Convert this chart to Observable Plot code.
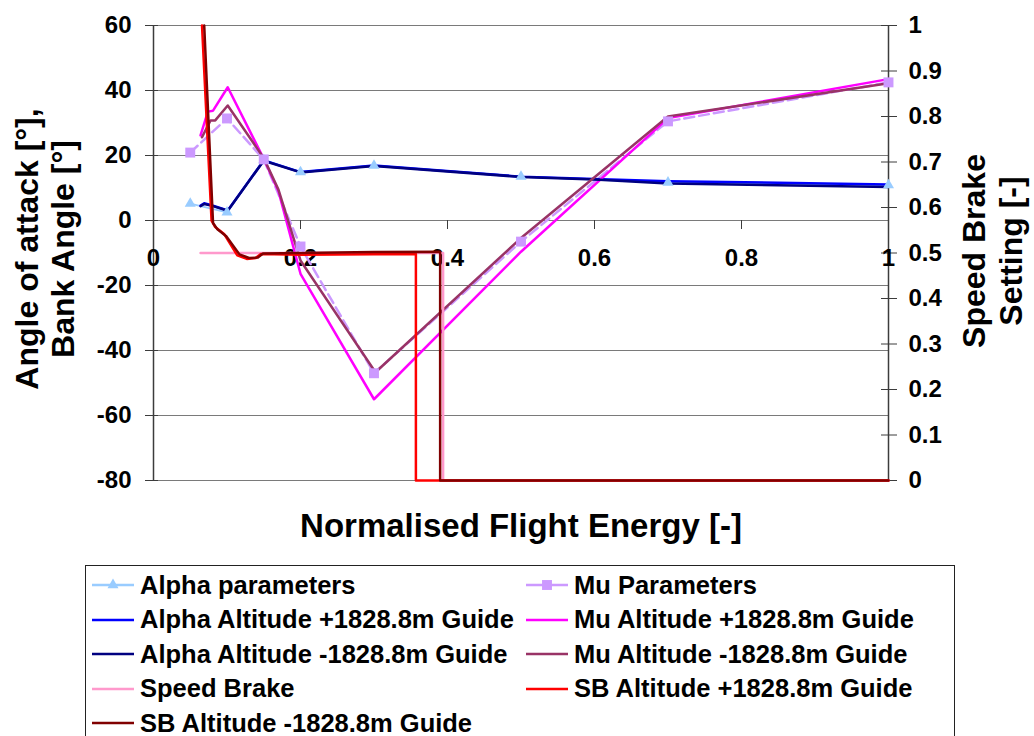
<!DOCTYPE html>
<html>
<head>
<meta charset="utf-8">
<script src="https://cdn.jsdelivr.net/npm/d3@7"></script>
<script src="https://cdn.jsdelivr.net/npm/@observablehq/plot@0.6"></script>
<style>
  html, body { margin: 0; padding: 0; background: #fff; overflow: hidden; }
  #wrap { position: relative; width: 1034px; height: 736px;
          font-family: "Liberation Sans", Arial, sans-serif; font-weight: bold; color: #000; }
  #chart svg { display: block; }
  #legend { position: absolute; left: 85px; top: 565px; width: 870px; height: 200px;
            border: 1px solid #222; box-sizing: border-box; background: #fff; }
  .item { position: absolute; display: flex; align-items: center; height: 34px;
          font-size: 25.5px; white-space: nowrap; }
  .item svg { margin-right: 6px; flex: none; }
</style>
</head>
<body>
<div id="wrap">
  <div id="chart"></div>
  <div id="legend"></div>
</div>
<script>
// ---- tick values ----
const xTicks = [0, 0.2, 0.4, 0.6, 0.8, 1];
const leftTicks = [-80, -60, -40, -20, 0, 20, 40, 60];
const sbTicks = [0, 0.1, 0.2, 0.3, 0.4, 0.5, 0.6, 0.7, 0.8, 0.9, 1];

// ---- reference parameters (markers) ----
const alphaParamX = [0.05, 0.1, 0.15, 0.2, 0.3, 0.5, 0.7, 1.0];
const alphaParamY = [5.2, 2.5, 18.6, 14.9, 16.9, 13.5, 11.7, 10.9];
const muParamX = [0.05, 0.1, 0.15, 0.2, 0.3, 0.5, 0.7, 1.0];
const muParamY = [20.9, 31.4, 18.8, -8.0, -47.0, -6.5, 30.5, 42.5];

// ---- angle of attack, guided runs ----
const alphaPlusX  = [0.064, 0.069, 0.08, 0.101, 0.15, 0.2, 0.3, 0.5, 0.6, 0.7, 1.0];
const alphaPlusY  = [4.6, 5.3, 4.6, 3.1, 18.5, 14.9, 16.9, 13.5, 12.8, 12.1, 11.1];
const alphaMinusX = [0.064, 0.069, 0.08, 0.101, 0.15, 0.2, 0.3, 0.5, 0.6, 0.7, 1.0];
const alphaMinusY = [4.4, 5.1, 4.5, 3.0, 18.4, 14.8, 16.8, 13.4, 12.6, 11.4, 10.3];

// ---- bank angle, guided runs ----
const muPlusX  = [0.064, 0.074, 0.081, 0.101, 0.15, 0.17, 0.2, 0.3, 0.5, 0.7, 1.0];
const muPlusY  = [26.2, 33.5, 33.8, 41.0, 19.0, 9.0, -16.4, -55.0, -9.6, 31.5, 43.5];
const muMinusX = [0.066, 0.0776, 0.084, 0.101, 0.15, 0.17, 0.2, 0.302, 0.5, 0.7, 1.0];
const muMinusY = [25.6, 30.8, 30.8, 35.4, 19.2, 9.5, -12.3, -46.7, -5.4, 32.0, 42.2];

// ---- speed brake setting (right axis, 0..1) ----
const sbRefX   = [0.064, 0.394, 0.394, 1.0];
const sbRefV   = [0.5, 0.5, 0, 0];
const sbPlusX  = [0.066, 0.079, 0.084, 0.096, 0.114, 0.127, 0.139, 0.146, 0.2, 0.3, 0.357, 0.357, 1.0];
const sbPlusV  = [1.0, 0.571, 0.557, 0.542, 0.495, 0.487, 0.489, 0.498, 0.496, 0.497, 0.498, 0, 0];
const sbMinusX = [0.069, 0.081, 0.087, 0.099, 0.117, 0.130, 0.142, 0.149, 0.2, 0.3, 0.39, 0.39, 1.0];
const sbMinusV = [1.0, 0.566, 0.552, 0.537, 0.497, 0.489, 0.490, 0.499, 0.500, 0.502, 0.503, 0, 0];

// ---- series names / colours ----
const seriesNames = [
  "Alpha parameters", "Mu Parameters",
  "Alpha Altitude +1828.8m Guide", "Mu Altitude +1828.8m Guide",
  "Alpha Altitude -1828.8m Guide", "Mu Altitude -1828.8m Guide",
  "Speed Brake", "SB Altitude +1828.8m Guide",
  "SB Altitude -1828.8m Guide"
];
const seriesColors = [
  "#99ccff", "#cc99ff",
  "#0000ff", "#ff00ff",
  "#000080", "#993366",
  "#ff99cc", "#ff0000",
  "#800000"
];
const seriesMarkers = ["triangle", "square", null, null, null, null, null, null, null];

// The speed brake axis (0..1) shares the frame with the angle axis (-80..60).
const yLo = -80, yHi = 60;
const toY = v => yLo + (yHi - yLo) * v;
const fromY = y => +((y - yLo) / (yHi - yLo)).toFixed(1);

const pts = (xs, ys) => xs.map((x, i) => ({x, y: ys[i]}));
const sbPts = (xs, vs) => xs.map((x, i) => ({x, y: toY(vs[i])}));

const W = 1034, H = 565;
const mL = 153, mR = 146, mT = 25, mB = 85;
const plotBottom = H - mB;           // pixel row of -80
const zeroRow = mT + (plotBottom - mT) * (yHi - 0) / (yHi - yLo); // pixel row of y = 0

const font = {fontSize: 24, fontWeight: "bold", fill: "black"};
const titleFont = {fontWeight: "bold", fill: "black", textAnchor: "middle", lineAnchor: "middle"};
const lw = 2.5;

const chart = Plot.plot({
  width: W, height: H,
  marginLeft: mL, marginRight: mR, marginTop: mT, marginBottom: mB,
  style: {fontFamily: "Liberation Sans, Arial, sans-serif", background: "white", color: "black"},
  x: {domain: [0, 1], axis: null},
  y: {domain: [yLo, yHi]},
  marks: [
    // horizontal gridlines
    Plot.ruleY(leftTicks, {stroke: "#7a7a7a", strokeWidth: 1}),
    // vertical axis lines
    Plot.ruleX([0, 1], {stroke: "#3c3c3c", strokeWidth: 1.5}),
    // left axis (angles)
    Plot.axisY(leftTicks, {anchor: "left", label: null, tickSize: 13, dx: 5, tickPadding: 14,
      tickFormat: d => String(d), stroke: "#3c3c3c", ...font}),
    // right axis (speed brake setting)
    Plot.axisY(sbTicks.map(toY), {anchor: "right", label: null, tickSize: 16, dx: -8, tickPadding: 12,
      tickFormat: y => String(fromY(y)), stroke: "#3c3c3c", ...font}),
    // x axis drawn across y = 0
    Plot.axisX(xTicks, {anchor: "bottom", label: null, dy: zeroRow - plotBottom, tickSize: 9, tickPadding: 19,
      tickFormat: d => String(d), stroke: "#3c3c3c", ...font}),

    // parameter polylines
    Plot.line(pts(alphaParamX, alphaParamY), {x: "x", y: "y", stroke: seriesColors[0], strokeWidth: 2}),
    Plot.line(pts(muParamX, muParamY), {x: "x", y: "y", stroke: seriesColors[1], strokeWidth: 2.5,
      strokeDasharray: "10,5"}),
    // guided runs
    Plot.line(pts(alphaPlusX, alphaPlusY), {x: "x", y: "y", stroke: seriesColors[2], strokeWidth: lw}),
    Plot.line(pts(muPlusX, muPlusY), {x: "x", y: "y", stroke: seriesColors[3], strokeWidth: lw}),
    Plot.line(pts(alphaMinusX, alphaMinusY), {x: "x", y: "y", stroke: seriesColors[4], strokeWidth: lw}),
    Plot.line(pts(muMinusX, muMinusY), {x: "x", y: "y", stroke: seriesColors[5], strokeWidth: lw}),
    // speed brake (secondary axis)
    Plot.line(sbPts(sbRefX, sbRefV), {x: "x", y: "y", stroke: seriesColors[6], strokeWidth: lw}),
    Plot.line(sbPts(sbPlusX, sbPlusV), {x: "x", y: "y", stroke: seriesColors[7], strokeWidth: lw}),
    Plot.line(sbPts(sbMinusX, sbMinusV), {x: "x", y: "y", stroke: seriesColors[8], strokeWidth: lw}),

    // parameter markers
    Plot.dot(pts(alphaParamX, alphaParamY), {x: "x", y: "y", symbol: "triangle", r: 4.1, fill: seriesColors[0], stroke: "none"}),
    Plot.dot(pts(muParamX, muParamY), {x: "x", y: "y", symbol: "square", r: 5.6, fill: seriesColors[1], stroke: "none"}),

    // axis titles
    Plot.text(["Angle of attack [°],\nBank Angle [°]"], {text: d => d, frameAnchor: "left",
      dx: -109, dy: -4, rotate: -90, fontSize: 32, lineHeight: 1.125, ...titleFont}),
    Plot.text(["Speed Brake\nSetting [-]"], {text: d => d, frameAnchor: "right",
      dx: 103.5, dy: -2, rotate: -90, fontSize: 32, lineHeight: 1.16, ...titleFont}),
    Plot.text(["Normalised Flight Energy [-]"], {text: d => d, frameAnchor: "bottom",
      dy: 46, fontSize: 33, ...titleFont})
  ]
});
document.getElementById("chart").appendChild(chart);

// ---- legend (two columns, row-major) ----
const legend = document.getElementById("legend");
const colLeft = [6, 440];
const rowTop0 = 2, rowStep = 34.6;
seriesNames.forEach((name, i) => {
  const item = document.createElement("div");
  item.className = "item";
  item.style.left = colLeft[i % 2] + "px";
  item.style.top = (rowTop0 + Math.floor(i / 2) * rowStep) + "px";
  const ns = "http://www.w3.org/2000/svg";
  const sw = document.createElementNS(ns, "svg");
  sw.setAttribute("width", 42); sw.setAttribute("height", 20);
  const ln = document.createElementNS(ns, "line");
  ln.setAttribute("x1", 0); ln.setAttribute("x2", 42);
  ln.setAttribute("y1", 10); ln.setAttribute("y2", 10);
  ln.setAttribute("stroke", seriesColors[i]); ln.setAttribute("stroke-width", 2.5);
  sw.appendChild(ln);
  if (seriesMarkers[i]) {
    const p = document.createElementNS(ns, "path");
    const sym = seriesMarkers[i] === "triangle"
      ? d3.symbol(d3.symbolTriangle, 4.1 * 4.1 * Math.PI)
      : d3.symbol(d3.symbolSquare, 5.6 * 5.6 * Math.PI);
    p.setAttribute("d", sym());
    p.setAttribute("transform", "translate(21,10)");
    p.setAttribute("fill", seriesColors[i]);
    sw.appendChild(p);
  }
  item.appendChild(sw);
  const label = document.createElement("span");
  label.textContent = name;
  item.appendChild(label);
  legend.appendChild(item);
});
</script>
</body>
</html>
